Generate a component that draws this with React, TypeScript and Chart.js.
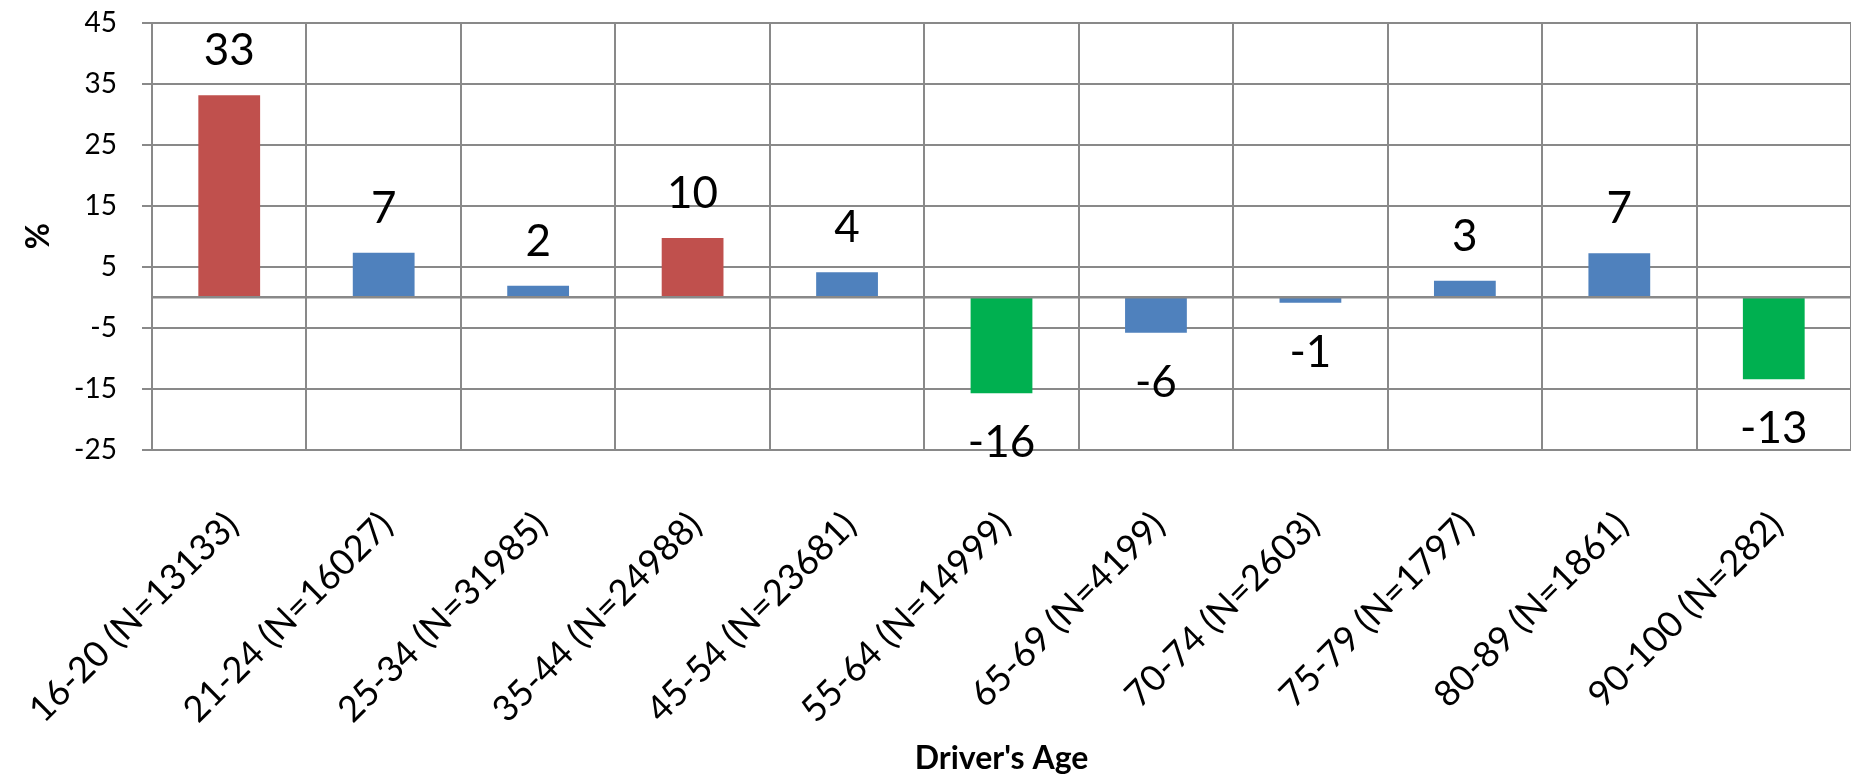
import React, { useEffect, useRef } from 'react';
import { Chart, registerables } from 'chart.js';

Chart.register(...registerables);

const categories = [
  '16-20 (N=13133)',
  '21-24 (N=16027)',
  '25-34 (N=31985)',
  '35-44 (N=24988)',
  '45-54 (N=23681)',
  '55-64 (N=14999)',
  '65-69 (N=4199)',
  '70-74 (N=2603)',
  '75-79 (N=1797)',
  '80-89 (N=1861)',
  '90-100 (N=282)',
];
const values = [33.1, 7.3, 1.9, 9.7, 4.1, -15.7, -5.8, -0.9, 2.7, 7.2, -13.4];
const valueLabels = ['33', '7', '2', '10', '4', '-16', '-6', '-1', '3', '7', '-13'];
const barColors = [
  '#C0504D', '#4F81BD', '#4F81BD', '#C0504D', '#4F81BD', '#00B050',
  '#4F81BD', '#4F81BD', '#4F81BD', '#4F81BD', '#00B050',
];
const yMin = -25;
const yMax = 45;
const yStep = 10;
const xTitle = "Driver's Age";
const yTitle = '%';

const GRID = '#898989';
const FONT = 'Lato';
const W = 1851;
const H = 778;

const zeroLinePlugin = {
  id: 'zeroLine',
  afterDatasetsDraw(chart: any) {
    const ctx = chart.ctx;
    const y = chart.scales.y.getPixelForValue(0);
    const { left, right } = chart.chartArea;
    ctx.save();
    ctx.strokeStyle = GRID;
    ctx.lineWidth = 2.5;
    ctx.beginPath();
    ctx.moveTo(left, y);
    ctx.lineTo(right, y);
    ctx.stroke();
    ctx.restore();
  },
};

const dataLabelPlugin = {
  id: 'dataLabels',
  afterDatasetsDraw(chart: any) {
    const ctx = chart.ctx;
    const meta = chart.getDatasetMeta(0);
    ctx.save();
    ctx.font = `44px ${FONT}`;
    ctx.fillStyle = '#000000';
    ctx.textAlign = 'center';
    ctx.textBaseline = 'alphabetic';
    meta.data.forEach((bar: any, i: number) => {
      const v = values[i];
      const txt = valueLabels[i];
      if (v >= 0) {
        ctx.fillText(txt, bar.x, bar.y - 30);
      } else {
        ctx.fillText(txt, bar.x, bar.y + 64);
      }
    });
    ctx.restore();
  },
};

export default function App() {
  const canvasRef = useRef<HTMLCanvasElement | null>(null);

  useEffect(() => {
    const canvas = canvasRef.current;
    if (!canvas) return;
    const chart = new Chart(canvas, {
      type: 'bar',
      data: {
        labels: categories,
        datasets: [
          {
            data: values,
            backgroundColor: barColors,
            borderWidth: 0,
            barPercentage: 0.4,
            categoryPercentage: 1.0,
          },
        ],
      },
      options: {
        responsive: false,
        maintainAspectRatio: false,
        animation: false,
        devicePixelRatio: 1,
        layout: { padding: { top: 22.5, left: 0, right: 0, bottom: 0 } },
        plugins: {
          legend: { display: false },
          tooltip: { enabled: false },
          title: { display: false },
        },
        scales: {
          x: {
            type: 'category',
            position: 'bottom',
            grid: {
              display: true,
              color: GRID,
              lineWidth: 2,
              drawTicks: false,
              offset: true,
            },
            border: { display: true, color: GRID, width: 2 },
            ticks: {
              autoSkip: false,
              minRotation: 45,
              maxRotation: 45,
              padding: 54,
              labelOffset: 3,
              color: '#000000',
              font: { family: FONT, size: 36 },
            },
            title: {
              display: true,
              text: xTitle,
              color: '#000000',
              font: { family: FONT, size: 32, weight: 'bold' },
              padding: { top: 0, bottom: 0 },
            },
            afterFit(scale: any) {
              scale.height = H - 450;
              scale.paddingLeft = 0;
              scale.paddingRight = 0;
            },
          },
          y: {
            type: 'linear',
            min: yMin,
            max: yMax,
            ticks: {
              stepSize: yStep,
              padding: 25,
              color: '#000000',
              font: { family: FONT, size: 28 },
            },
            grid: {
              color: GRID,
              lineWidth: 2,
              drawTicks: true,
              tickLength: 10,
            },
            border: { display: true, color: GRID, width: 2 },
            title: {
              display: true,
              text: yTitle,
              color: '#000000',
              font: { family: FONT, size: 32, weight: 'bold' },
              padding: { top: 19, bottom: 0 },
            },
            afterFit(scale: any) {
              scale.width = 152;
              scale.paddingTop = 0;
              scale.paddingBottom = 0;
            },
          },
        },
      },
      plugins: [zeroLinePlugin, dataLabelPlugin],
    } as any);
    return () => {
      chart.destroy();
    };
  }, []);

  return (
    <div style={{ position: 'absolute', left: 0, top: 0, width: W, height: H, background: '#ffffff' }}>
      <canvas ref={canvasRef} width={W} height={H} style={{ display: 'block', width: W, height: H }} />
    </div>
  );
}
